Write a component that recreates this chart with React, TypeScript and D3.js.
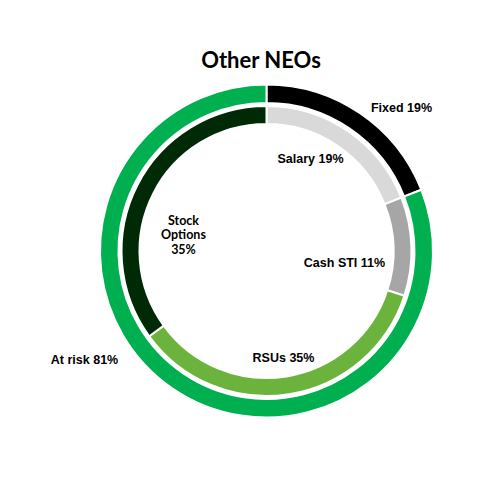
import * as d3 from 'd3';

const outerCats = ['Fixed', 'At risk'];
const outerValues = [19, 81];
const innerCats = ['Salary', 'Cash STI', 'RSUs', 'Stock Options'];
const innerValues = [19, 11, 35, 35];

const outerColors = ['#000000', '#00b050'];
const innerColors = ['#d9d9d9', '#a6a6a6', '#6cb33e', '#002a06'];

// label anchor points (layout, relative to donut centre)
const outerLabelPos: [number, number][] = [
  [135, -143],
  [-182, 109],
];
const innerLabelPos: [number, number][] = [
  [44, -92],
  [78, 12],
  [17, 107],
  [-83, -16],
];
const wrapLabel = [false, false, false, true];

const width = 499;
const height = 485;
const cx = 266.5;
const cy = 251;

export default function App() {
  const pie = d3
    .pie<number>()
    .sort(null)
    .value((d) => d);
  const outerArc = d3.arc<d3.PieArcDatum<number>>().innerRadius(148).outerRadius(166.5);
  const innerArc = d3.arc<d3.PieArcDatum<number>>().innerRadius(127).outerRadius(145);

  const outer = pie(outerValues);
  const inner = pie(innerValues);

  const labelFont = '"Liberation Sans", Arial, sans-serif';

  return (
    <svg
      width={width}
      height={height}
      style={{ position: 'absolute', left: 0, top: 0, background: '#fff' }}
    >
      <text
        x={261}
        y={68}
        textAnchor='middle'
        fontFamily='Lato, "Open Sans", sans-serif'
        fontWeight='bold'
        fontSize={22}
        fill='#000'
      >
        Other NEOs
      </text>
      <g transform={`translate(${cx},${cy})`}>
        {outer.map((a, i) => (
          <path
            key={outerCats[i]}
            d={outerArc(a) ?? ''}
            fill={outerColors[i]}
            stroke='#fff'
            strokeWidth={2}
          />
        ))}
        {inner.map((a, i) => (
          <path
            key={innerCats[i]}
            d={innerArc(a) ?? ''}
            fill={innerColors[i]}
            stroke='#fff'
            strokeWidth={2}
          />
        ))}
        <g fontFamily={labelFont} fontWeight='bold' fontSize={12.5} fill='#000'>
          {outerCats.map((c, i) => (
            <text
              key={c}
              x={outerLabelPos[i][0]}
              y={outerLabelPos[i][1]}
              textAnchor='middle'
              dy='0.35em'
            >
              {`${c} ${outerValues[i]}%`}
            </text>
          ))}
          {innerCats.map((c, i) => {
            const [x, y] = innerLabelPos[i];
            if (wrapLabel[i]) {
              const lines = [...c.split(' '), `${innerValues[i]}%`];
              return (
                <g key={c} fontFamily='Lato, "Open Sans", sans-serif' fontSize={12.5}>
                  {lines.map((l, j) => (
                    <text
                      key={j}
                      x={x}
                      y={y + (j - 1) * 14.5}
                      dy='0.35em'
                      textAnchor='middle'
                    >
                      {l}
                    </text>
                  ))}
                </g>
              );
            }
            return (
              <text key={c} x={x} y={y} textAnchor='middle' dy='0.35em'>
                {`${c} ${innerValues[i]}%`}
              </text>
            );
          })}
        </g>
      </g>
    </svg>
  );
}
